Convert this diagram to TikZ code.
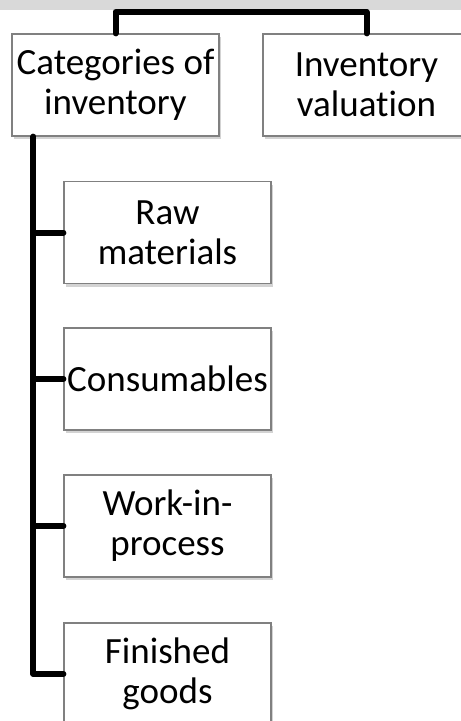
\documentclass[tikz,border=0pt]{standalone}
\usepackage{fontspec}
\setmainfont{Carlito}[Ligatures=NoCommon]
\usetikzlibrary{shadows}
\definecolor{strip}{HTML}{D9D9D9}
\definecolor{edge}{HTML}{808080}
\tikzset{
  box/.style={draw=edge, line width=1.2pt, fill=white, rectangle,
    minimum width=207pt, minimum height=102pt, inner sep=0pt,
    align=center, font=\fontsize{37}{40}\selectfont,
    drop shadow={shadow xshift=2pt, shadow yshift=-3pt, opacity=0.35, fill=gray}},
  conn/.style={line width=6pt, black, line cap=round, line join=round}
}
\begin{document}
\begin{tikzpicture}[x=1pt, y=-1pt]
\useasboundingbox (0,0) rectangle (461,721);
\fill[strip] (0,0) rectangle (461,10);
\node[box] (cat) at (115.5,85) {Categories of\\inventory};
\node[box] (val) at (366.5,85) {Inventory\\valuation};
\node[box] (raw) at (167.5,232.5) {Raw\\materials};
\node[box] (con) at (167.5,379) {Consumables};
\node[box] (wip) at (167.5,526) {Work-in-\\process};
\node[box] (fin) at (167.5,674) {Finished\\goods};
\coordinate (sp) at ([xshift=22pt]cat.south west);
\draw[conn] (cat.north) -- ++(0,-21.5) -| (val.north);
\draw[conn] (sp) |- (fin.west);
\foreach \n in {raw,con,wip}{
  \draw[conn] (\n.west) -- (\n.west -| sp);
}
\end{tikzpicture}
\end{document}
